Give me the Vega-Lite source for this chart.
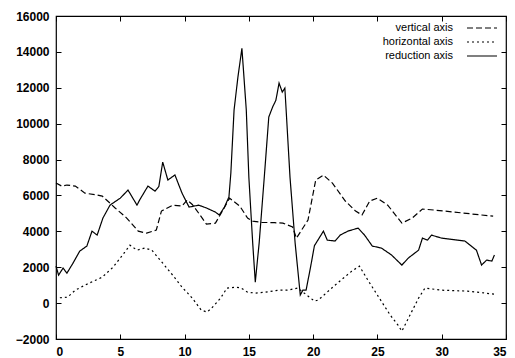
{
  "$schema": "https://vega.github.io/schema/vega-lite/v6.json",
  "width": 450,
  "height": 323,
  "autosize": "none",
  "padding": {"left": 56, "top": 16, "right": 9, "bottom": 19},
  "background": "white",
  "config": {
    "view": {"stroke": "black", "strokeWidth": 1.2},
    "axis": {"domain": false, "grid": false, "ticks": true, "tickSize": -5, "tickColor": "black", "tickWidth": 1,
      "labelFont": "Liberation Sans", "labelFontSize": 12, "labelFontWeight": "bold", "labelColor": "black", "title": null, "format": "d"}
  },
  "datasets": {
    "d": [
      {"s": "vertical axis", "x": 0, "y": 6690}, {"s": "vertical axis", "x": 0.45, "y": 6520}, {"s": "vertical axis", "x": 0.85, "y": 6580},
      {"s": "vertical axis", "x": 1.5, "y": 6520}, {"s": "vertical axis", "x": 2.25, "y": 6130}, {"s": "vertical axis", "x": 3.2, "y": 6020},
      {"s": "vertical axis", "x": 3.6, "y": 5960}, {"s": "vertical axis", "x": 4.2, "y": 5570}, {"s": "vertical axis", "x": 4.6, "y": 5300},
      {"s": "vertical axis", "x": 5.5, "y": 4740}, {"s": "vertical axis", "x": 6.4, "y": 4010}, {"s": "vertical axis", "x": 7.05, "y": 3900},
      {"s": "vertical axis", "x": 7.8, "y": 4070}, {"s": "vertical axis", "x": 8.2, "y": 5130}, {"s": "vertical axis", "x": 9.1, "y": 5460},
      {"s": "vertical axis", "x": 9.8, "y": 5410}, {"s": "vertical axis", "x": 10.2, "y": 5740}, {"s": "vertical axis", "x": 10.6, "y": 5500},
      {"s": "vertical axis", "x": 11.2, "y": 4910}, {"s": "vertical axis", "x": 11.7, "y": 4400}, {"s": "vertical axis", "x": 12.4, "y": 4460},
      {"s": "vertical axis", "x": 13.0, "y": 5200}, {"s": "vertical axis", "x": 13.5, "y": 5850}, {"s": "vertical axis", "x": 14.3, "y": 5400},
      {"s": "vertical axis", "x": 14.9, "y": 4740}, {"s": "vertical axis", "x": 15.3, "y": 4570}, {"s": "vertical axis", "x": 16.0, "y": 4500},
      {"s": "vertical axis", "x": 17.0, "y": 4480}, {"s": "vertical axis", "x": 17.65, "y": 4460}, {"s": "vertical axis", "x": 18.4, "y": 4240},
      {"s": "vertical axis", "x": 18.7, "y": 3620}, {"s": "vertical axis", "x": 19.6, "y": 4630}, {"s": "vertical axis", "x": 20.2, "y": 6860},
      {"s": "vertical axis", "x": 20.8, "y": 7130}, {"s": "vertical axis", "x": 21.5, "y": 6690}, {"s": "vertical axis", "x": 22.5, "y": 5690},
      {"s": "vertical axis", "x": 23.3, "y": 5130}, {"s": "vertical axis", "x": 23.8, "y": 4910}, {"s": "vertical axis", "x": 24.4, "y": 5690},
      {"s": "vertical axis", "x": 25.0, "y": 5850}, {"s": "vertical axis", "x": 25.8, "y": 5460}, {"s": "vertical axis", "x": 26.9, "y": 4460},
      {"s": "vertical axis", "x": 27.7, "y": 4740}, {"s": "vertical axis", "x": 28.5, "y": 5240}, {"s": "vertical axis", "x": 29.5, "y": 5180},
      {"s": "vertical axis", "x": 31.0, "y": 5070}, {"s": "vertical axis", "x": 33.1, "y": 4910}, {"s": "vertical axis", "x": 34.0, "y": 4850},

      {"s": "horizontal axis", "x": 0.3, "y": 300}, {"s": "horizontal axis", "x": 0.9, "y": 330}, {"s": "horizontal axis", "x": 1.5, "y": 720},
      {"s": "horizontal axis", "x": 2.25, "y": 1000}, {"s": "horizontal axis", "x": 3.6, "y": 1450}, {"s": "horizontal axis", "x": 4.45, "y": 2010},
      {"s": "horizontal axis", "x": 5.35, "y": 2840}, {"s": "horizontal axis", "x": 5.75, "y": 3230}, {"s": "horizontal axis", "x": 6.3, "y": 2950},
      {"s": "horizontal axis", "x": 6.9, "y": 3070}, {"s": "horizontal axis", "x": 7.45, "y": 2950}, {"s": "horizontal axis", "x": 8.1, "y": 2400},
      {"s": "horizontal axis", "x": 9.2, "y": 1450}, {"s": "horizontal axis", "x": 9.8, "y": 890}, {"s": "horizontal axis", "x": 10.6, "y": 280},
      {"s": "horizontal axis", "x": 11.3, "y": -390}, {"s": "horizontal axis", "x": 11.75, "y": -500}, {"s": "horizontal axis", "x": 12.1, "y": -280},
      {"s": "horizontal axis", "x": 12.8, "y": 280}, {"s": "horizontal axis", "x": 13.3, "y": 840}, {"s": "horizontal axis", "x": 14.0, "y": 890},
      {"s": "horizontal axis", "x": 14.4, "y": 840}, {"s": "horizontal axis", "x": 14.9, "y": 610}, {"s": "horizontal axis", "x": 15.5, "y": 560},
      {"s": "horizontal axis", "x": 16.3, "y": 610}, {"s": "horizontal axis", "x": 17.3, "y": 720}, {"s": "horizontal axis", "x": 18.0, "y": 720},
      {"s": "horizontal axis", "x": 18.8, "y": 840}, {"s": "horizontal axis", "x": 19.5, "y": 450}, {"s": "horizontal axis", "x": 20.1, "y": 110},
      {"s": "horizontal axis", "x": 20.4, "y": 170}, {"s": "horizontal axis", "x": 21.7, "y": 1000}, {"s": "horizontal axis", "x": 23.0, "y": 1780},
      {"s": "horizontal axis", "x": 23.6, "y": 2060}, {"s": "horizontal axis", "x": 24.3, "y": 1230}, {"s": "horizontal axis", "x": 25.3, "y": 110},
      {"s": "horizontal axis", "x": 26.0, "y": -670}, {"s": "horizontal axis", "x": 26.6, "y": -1230}, {"s": "horizontal axis", "x": 26.9, "y": -1560},
      {"s": "horizontal axis", "x": 27.3, "y": -1000}, {"s": "horizontal axis", "x": 28.2, "y": 280}, {"s": "horizontal axis", "x": 28.7, "y": 840},
      {"s": "horizontal axis", "x": 30.0, "y": 720}, {"s": "horizontal axis", "x": 32.0, "y": 670}, {"s": "horizontal axis", "x": 34.1, "y": 500},

      {"s": "reduction axis", "x": 0, "y": 2060}, {"s": "reduction axis", "x": 0.2, "y": 1560}, {"s": "reduction axis", "x": 0.55, "y": 1950},
      {"s": "reduction axis", "x": 0.85, "y": 1670}, {"s": "reduction axis", "x": 1.3, "y": 2200}, {"s": "reduction axis", "x": 1.85, "y": 2900},
      {"s": "reduction axis", "x": 2.4, "y": 3180}, {"s": "reduction axis", "x": 2.8, "y": 4010}, {"s": "reduction axis", "x": 3.2, "y": 3790},
      {"s": "reduction axis", "x": 3.65, "y": 4740}, {"s": "reduction axis", "x": 4.2, "y": 5460}, {"s": "reduction axis", "x": 5.0, "y": 5850},
      {"s": "reduction axis", "x": 5.6, "y": 6300}, {"s": "reduction axis", "x": 6.3, "y": 5460}, {"s": "reduction axis", "x": 6.5, "y": 5740},
      {"s": "reduction axis", "x": 7.15, "y": 6520}, {"s": "reduction axis", "x": 7.7, "y": 6240}, {"s": "reduction axis", "x": 8.0, "y": 6500},
      {"s": "reduction axis", "x": 8.3, "y": 7860}, {"s": "reduction axis", "x": 8.7, "y": 6860}, {"s": "reduction axis", "x": 9.25, "y": 7140},
      {"s": "reduction axis", "x": 9.8, "y": 6130}, {"s": "reduction axis", "x": 10.35, "y": 5350}, {"s": "reduction axis", "x": 11.1, "y": 5460},
      {"s": "reduction axis", "x": 11.7, "y": 5300}, {"s": "reduction axis", "x": 12.4, "y": 5070}, {"s": "reduction axis", "x": 12.7, "y": 4910},
      {"s": "reduction axis", "x": 13.1, "y": 5350}, {"s": "reduction axis", "x": 13.45, "y": 5910}, {"s": "reduction axis", "x": 13.6, "y": 7250},
      {"s": "reduction axis", "x": 13.85, "y": 10760}, {"s": "reduction axis", "x": 14.15, "y": 12600}, {"s": "reduction axis", "x": 14.46, "y": 14200},
      {"s": "reduction axis", "x": 14.8, "y": 10760}, {"s": "reduction axis", "x": 15.0, "y": 7020}, {"s": "reduction axis", "x": 15.3, "y": 3340},
      {"s": "reduction axis", "x": 15.5, "y": 1170}, {"s": "reduction axis", "x": 15.8, "y": 3340}, {"s": "reduction axis", "x": 16.2, "y": 7020},
      {"s": "reduction axis", "x": 16.55, "y": 10370}, {"s": "reduction axis", "x": 16.85, "y": 10930}, {"s": "reduction axis", "x": 17.1, "y": 11300},
      {"s": "reduction axis", "x": 17.35, "y": 12260}, {"s": "reduction axis", "x": 17.6, "y": 11760}, {"s": "reduction axis", "x": 17.8, "y": 11980},
      {"s": "reduction axis", "x": 17.9, "y": 10760}, {"s": "reduction axis", "x": 18.2, "y": 7020}, {"s": "reduction axis", "x": 18.6, "y": 3340},
      {"s": "reduction axis", "x": 19.0, "y": 450}, {"s": "reduction axis", "x": 19.2, "y": 720}, {"s": "reduction axis", "x": 19.45, "y": 720},
      {"s": "reduction axis", "x": 19.8, "y": 2010}, {"s": "reduction axis", "x": 20.1, "y": 3200}, {"s": "reduction axis", "x": 20.8, "y": 4010},
      {"s": "reduction axis", "x": 21.1, "y": 3510}, {"s": "reduction axis", "x": 21.7, "y": 3460}, {"s": "reduction axis", "x": 22.1, "y": 3790},
      {"s": "reduction axis", "x": 22.7, "y": 4010}, {"s": "reduction axis", "x": 23.5, "y": 4180}, {"s": "reduction axis", "x": 24.0, "y": 3790},
      {"s": "reduction axis", "x": 24.6, "y": 3180}, {"s": "reduction axis", "x": 25.3, "y": 3070}, {"s": "reduction axis", "x": 26.1, "y": 2680},
      {"s": "reduction axis", "x": 26.9, "y": 2120}, {"s": "reduction axis", "x": 27.4, "y": 2510}, {"s": "reduction axis", "x": 28.2, "y": 2950},
      {"s": "reduction axis", "x": 28.5, "y": 3620}, {"s": "reduction axis", "x": 28.9, "y": 3510}, {"s": "reduction axis", "x": 29.2, "y": 3790},
      {"s": "reduction axis", "x": 30.0, "y": 3620}, {"s": "reduction axis", "x": 31.8, "y": 3460}, {"s": "reduction axis", "x": 32.7, "y": 2950},
      {"s": "reduction axis", "x": 33.1, "y": 2120}, {"s": "reduction axis", "x": 33.5, "y": 2400}, {"s": "reduction axis", "x": 33.9, "y": 2340},
      {"s": "reduction axis", "x": 34.1, "y": 2680}
    ]
  },
  "data": {"name": "d"},
  "layer": [
    {
      "mark": {"type": "line", "color": "black", "strokeWidth": 1.2},
      "encoding": {
        "x": {"field": "x", "type": "quantitative", "scale": {"domain": [0, 35], "nice": false, "zero": false},
          "axis": {"orient": "bottom", "values": [0, 5, 10, 15, 20, 25, 30, 35], "labelPadding": 12}},
        "y": {"field": "y", "type": "quantitative", "scale": {"domain": [-2000, 16000], "nice": false, "zero": false},
          "axis": {"orient": "left", "values": [-2000, 0, 2000, 4000, 6000, 8000, 10000, 12000, 14000, 16000], "labelPadding": 12}},
        "strokeDash": {"field": "s", "type": "nominal",
          "scale": {"domain": ["vertical axis", "horizontal axis", "reduction axis"], "range": [[6, 3], [2, 3], [1, 0]]},
          "legend": {"orient": "none", "legendX": 420, "legendY": 6, "title": null, "padding": 0,
            "symbolType": "M-3,0H3", "symbolSize": 100, "symbolStrokeWidth": 1.2, "symbolStrokeColor": "black",
            "labelAlign": "right", "labelOffset": -35, "labelFont": "Liberation Sans", "labelFontSize": 11,
            "labelColor": "black", "rowPadding": 3}}
      }
    },
    {
      "mark": {"type": "point", "opacity": 0},
      "encoding": {
        "x": {"field": "x", "type": "quantitative", "axis": {"orient": "top", "values": [0, 5, 10, 15, 20, 25, 30, 35], "labels": false}},
        "y": {"field": "y", "type": "quantitative", "axis": {"orient": "right", "values": [-2000, 0, 2000, 4000, 6000, 8000, 10000, 12000, 14000, 16000], "labels": false}}
      }
    }
  ],
  "resolve": {"axis": {"x": "independent", "y": "independent"}}
}
